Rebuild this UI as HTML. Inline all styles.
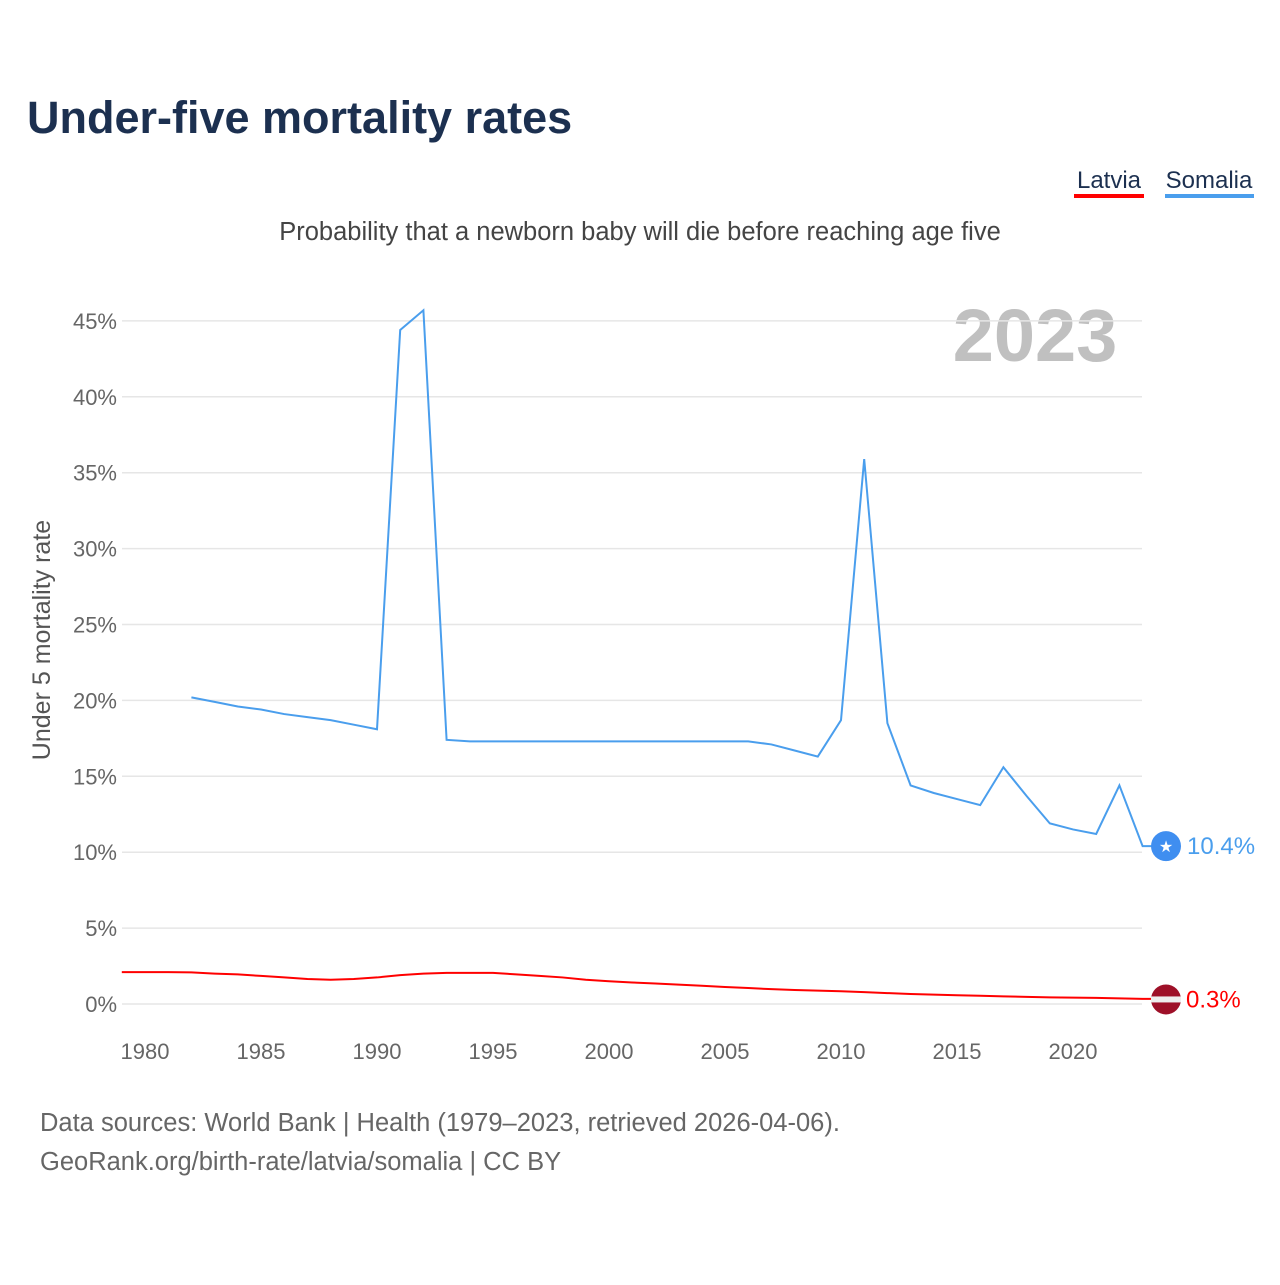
<!DOCTYPE html>
<html><head><meta charset="utf-8">
<style>
body{margin:0;background:#fff;font-family:"Liberation Sans",sans-serif;}
svg text{font-family:"Liberation Sans",sans-serif;}
</style></head>
<body>
<svg width="1280" height="1280" viewBox="0 0 1280 1280">
<text x="27" y="133" font-size="45" font-weight="bold" fill="#1c3050">Under-five mortality rates</text>
<g>
<text x="1109" y="188" font-size="24" fill="#1c3050" text-anchor="middle">Latvia</text>
<rect x="1074" y="194" width="70" height="4" fill="#ff0000"/></g>
<g>
<text x="1209" y="188" font-size="24" fill="#1c3050" text-anchor="middle">Somalia</text>
<rect x="1165" y="194" width="89" height="4" fill="#4a9eed"/></g>
<text x="640" y="240" font-size="25.5" fill="#444" text-anchor="middle">Probability that a newborn baby will die before reaching age five</text>
<text x="1035" y="361" font-size="74" font-weight="bold" fill="#c0c0c0" text-anchor="middle">2023</text>
<text transform="translate(50,640) rotate(-90)" font-size="25" fill="#555" text-anchor="middle">Under 5 mortality rate</text>
<g id="grid"></g><g id="xt"></g><g id="lines"></g>
<text x="40" y="1131" font-size="25.5" fill="#666">Data sources: World Bank | Health (1979–2023, retrieved 2026-04-06).</text>
<text x="40" y="1170" font-size="25.5" fill="#666">GeoRank.org/birth-rate/latvia/somalia | CC BY</text>
</svg>
<script>
const yTicks=[0,5,10,15,20,25,30,35,40,45];
const xTicks=[1980,1985,1990,1995,2000,2005,2010,2015,2020];
const somaliaYears=[1982,1983,1984,1985,1986,1987,1988,1989,1990,1991,1992,1993,1994,1995,1996,1997,1998,1999,2000,2001,2002,2003,2004,2005,2006,2007,2008,2009,2010,2011,2012,2013,2014,2015,2016,2017,2018,2019,2020,2021,2022,2023];
const somaliaValues=[20.2,19.9,19.6,19.4,19.1,18.9,18.7,18.4,18.1,44.4,45.7,17.4,17.3,17.3,17.3,17.3,17.3,17.3,17.3,17.3,17.3,17.3,17.3,17.3,17.3,17.1,16.7,16.3,18.7,35.9,18.5,14.4,13.9,13.5,13.1,15.6,13.7,11.9,11.5,11.2,14.4,10.4];
const latviaYears=[1979,1980,1981,1982,1983,1984,1985,1986,1987,1988,1989,1990,1991,1992,1993,1994,1995,1996,1997,1998,1999,2000,2001,2002,2003,2004,2005,2006,2007,2008,2009,2010,2011,2012,2013,2014,2015,2016,2017,2018,2019,2020,2021,2022,2023];
const latviaValues=[2.1,2.1,2.1,2.08,2.0,1.95,1.85,1.75,1.65,1.6,1.65,1.75,1.9,2.0,2.05,2.05,2.05,1.95,1.85,1.75,1.6,1.5,1.42,1.35,1.28,1.2,1.12,1.05,0.98,0.92,0.88,0.84,0.78,0.72,0.66,0.62,0.58,0.54,0.5,0.47,0.44,0.42,0.4,0.37,0.34];
const X=y=>145+(y-1980)*23.2;
const Y=v=>1004-v*15.18;
const NS="http://www.w3.org/2000/svg";
function mk(t,a,p){const e=document.createElementNS(NS,t);for(const k in a)e.setAttribute(k,a[k]);p.appendChild(e);return e;}
const g=document.getElementById('grid');
yTicks.forEach(v=>{
 const l=mk('line',{x1:122,x2:1142,y1:Y(v),y2:Y(v),stroke:'#e6e6e6','stroke-width':1.5},g);
 
 
 const t=mk('text',{x:117,y:Y(v)+8,'font-size':22,fill:'#666','text-anchor':'end'},g);
 t.textContent=v+'%';
 
 
});
const xt=document.getElementById('xt');
xTicks.forEach(v=>{
 const t=mk('text',{x:X(v),y:1059,'font-size':22,fill:'#666','text-anchor':'middle'},xt);
 t.textContent=v;
 
 
});
const L=document.getElementById('lines');
function pts(ys,vs){return ys.map((y,i)=>X(y)+','+Y(vs[i])).join(' ');}
const s=mk('polyline',{points:pts(somaliaYears,somaliaValues)+' 1166,'+Y(10.4),fill:'none',stroke:'#4a9eed','stroke-width':2},L);


const la=mk('polyline',{points:pts(latviaYears,latviaValues)+' 1166,'+Y(0.34),fill:'none',stroke:'#ff0000','stroke-width':2},L);


const sy=Y(somaliaValues[somaliaValues.length-1]);
const sm=mk('g',{},L);


mk('circle',{cx:1166,cy:sy,r:15,fill:'#3f8ef0'},sm);
const st=mk('text',{x:1166,y:sy+6,'font-size':16,fill:'#fff','text-anchor':'middle'},sm);st.textContent='★';
const sl=mk('text',{x:1187,y:sy+8,'font-size':24,fill:'#4a9eed'},L);
sl.textContent=somaliaValues[somaliaValues.length-1]+'%';


const ly=Y(0.3);
const lm=mk('g',{},L);


mk('circle',{cx:1166,cy:ly,r:15,fill:'#9e1028'},lm);
mk('rect',{x:1151,y:ly-3,width:30,height:6,fill:'#eee'},lm);
const ll=mk('text',{x:1186,y:ly+8,'font-size':24,fill:'#ff0000'},L);
ll.textContent='0.3%';


</script>
</body></html>
